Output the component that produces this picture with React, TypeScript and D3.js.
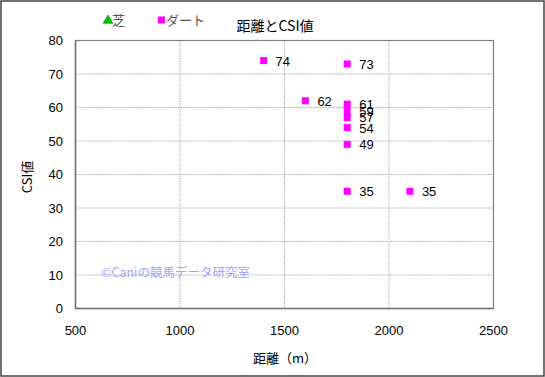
import React from "react";
import * as d3 from "d3";

const distances = [1400, 1800, 1600, 1800, 1800, 1800, 1800, 1800, 1800, 2100];
const csiValues = [74, 73, 62, 61, 59, 57, 54, 49, 35, 35];
const xTicks = [500, 1000, 1500, 2000, 2500];
const yTicks = [0, 10, 20, 30, 40, 50, 60, 70, 80];
const legendItems = ["芝", "ダート"];

const W = 545;
const H = 377;
const FONT = "'Liberation Sans', Arial, 'Noto Sans CJK JP', sans-serif";
const JFONT = "'Noto Sans CJK JP', 'Liberation Sans', sans-serif";

export default function App() {
  const x = d3.scaleLinear().domain([500, 2500]).range([75.5, 493.5]);
  const y = d3.scaleLinear().domain([0, 80]).range([308.5, 40.5]);
  const [x0, x1] = x.range();
  const [y0, y1] = y.range();
  return (
    <svg
      width={W}
      height={H}
      style={{ position: "absolute", left: 0, top: 0, display: "block", background: "#fff" }}
    >
      <rect x={1} y={1} width={W - 2} height={H - 2} fill="#fff" stroke="#444" strokeWidth={1.5} />
      {/* grid */}
      {xTicks.slice(1, -1).map((t) => (
        <line key={"gx" + t} x1={x(t)} x2={x(t)} y1={y1} y2={y0} stroke="#b0b0b0" strokeWidth={1} strokeDasharray="1.5,1" />
      ))}
      {yTicks.slice(1, -1).map((t) => (
        <line key={"gy" + t} x1={x0} x2={x1} y1={y(t)} y2={y(t)} stroke="#b0b0b0" strokeWidth={1} strokeDasharray="1.5,1" />
      ))}
      <rect x={x0} y={y1} width={x1 - x0} height={y0 - y1} fill="none" stroke="#808080" strokeWidth={1.2} />
      <line x1={x0} x2={x1} y1={y0} y2={y0} stroke="#707070" strokeWidth={1.5} />
      <line x1={x0} x2={x0} y1={y1} y2={y0} stroke="#707070" strokeWidth={1.5} />
      {/* tick labels */}
      {yTicks.map((t) => (
        <text key={"yt" + t} x={63} y={y(t)} dy="0.35em" textAnchor="end" fontFamily={FONT} fontSize={13} fill="#000">
          {t}
        </text>
      ))}
      {xTicks.map((t) => (
        <text key={"xt" + t} x={x(t)} y={330} dy="0.35em" textAnchor="middle" fontFamily={FONT} fontSize={13} fill="#000">
          {t}
        </text>
      ))}
      {/* axis titles */}
      <text x={285} y={358} dy="0.35em" textAnchor="middle" fontFamily={JFONT} fontSize={13} fill="#000">
        距離（m）
      </text>
      <text transform="translate(27,177) rotate(-90)" dy="0.35em" textAnchor="middle" fontFamily={JFONT} fontSize={13} fill="#000">
        CSI値
      </text>
      {/* title */}
      <text x={275} y={26} dy="0.35em" textAnchor="middle" fontFamily={JFONT} fontSize={14} fill="#000">
        距離とCSI値
      </text>
      {/* legend */}
      <path d={d3.symbol(d3.symbolTriangle, 40)() || ""} transform="translate(108,20.5)" fill="#00cc00" stroke="#007700" strokeWidth={0.6} />
      <text x={112} y={20} dy="0.35em" fontFamily={JFONT} fontSize={13} fill="#555">
        {legendItems[0]}
      </text>
      <rect x={158} y={16.5} width={7} height={7} fill="#ff00ff" />
      <text x={166} y={20} dy="0.35em" fontFamily={JFONT} fontSize={13} fill="#555">
        {legendItems[1]}
      </text>
      {/* watermark */}
      <text x={101} y={273} dy="0.35em" fontFamily={JFONT} fontSize={12.5} fill="#9999ff" opacity={0.9}>
        ©Caniの競馬データ研究室
      </text>
      {/* points */}
      {distances.map((d, i) => (
        <g key={"p" + i}>
          <rect x={x(d) - 3.5} y={y(csiValues[i]) - 3.5} width={7} height={7} fill="#ff00ff" />
          <text x={x(d) + 12} y={y(csiValues[i])} dy="0.38em" fontFamily={FONT} fontSize={13} fill="#000">
            {csiValues[i]}
          </text>
        </g>
      ))}
    </svg>
  );
}
